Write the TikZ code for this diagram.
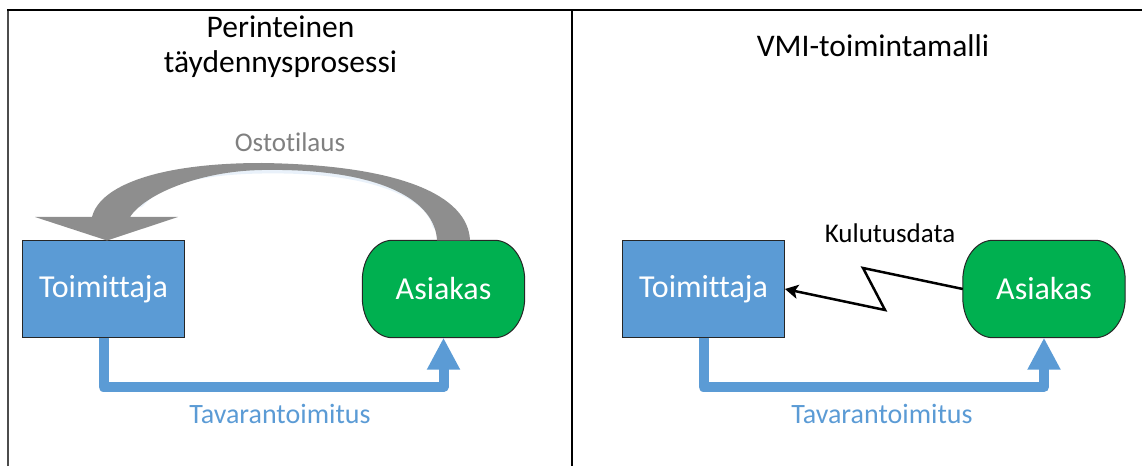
\documentclass[tikz,border=0pt]{standalone}
\usepackage{fontspec}
\setmainfont{Carlito}[Ligatures={NoCommon,NoContextual}]
\usetikzlibrary{arrows.meta,backgrounds}

\definecolor{vblue}{HTML}{5B9BD5}
\definecolor{vgreen}{HTML}{00B050}
\definecolor{vgrey}{HTML}{8E8E8E}

\tikzset{
  boxfont/.style={text=white, font=\fontsize{32}{38}\selectfont},
  supplier/.style={boxfont, draw=black!85, line width=1pt, fill=vblue,
    minimum width=162pt, minimum height=96pt},
  customer/.style={boxfont, minimum width=162pt, minimum height=97pt},
  termshape/.style={draw=black!85, line width=1pt, fill=vgreen},
  delivery/.style={vblue, line width=10pt, line join=round,
    -{Triangle[width=31pt,length=32pt]}},
  heading/.style={font=\fontsize{31.5}{35}\selectfont, align=center},
  flowlabel/.style={font=\fontsize{27}{32}\selectfont},
}

% terminator outline (elliptic corners) around a node
\newcommand\termoutline[1]{%
  \filldraw[termshape] ([xshift=30pt]#1.north west) -- ([xshift=-30pt]#1.north east)
    arc[start angle=90, end angle=0, x radius=30pt, y radius=40pt]
    -- ([yshift=40pt]#1.south east)
    arc[start angle=0, end angle=-90, x radius=30pt, y radius=40pt]
    -- ([xshift=30pt]#1.south west)
    arc[start angle=270, end angle=180, x radius=30pt, y radius=40pt]
    -- ([yshift=-40pt]#1.north west)
    arc[start angle=180, end angle=90, x radius=30pt, y radius=40pt] -- cycle;}

\begin{document}
\begin{tikzpicture}[x=1pt, y=1pt]
\useasboundingbox (0,0) rectangle (1142,466);

% frame
\draw[line width=2pt, black!70] (8,0) -- (8,455.5);
\draw[line width=2pt] (7,455.5) -- (1142,455.5);
\draw[line width=2pt] (571.5,455.5) -- (571.5,0);

% left panel
\node[heading] (title1) at (280.5,419) {Perinteinen\\täydennysprosessi};
\node[supplier] (t1) at (103.5,177) {Toimittaja};
\node[customer] (a1) at (443.5,177) {Asiakas};
\begin{pgfonlayer}{background}
  \termoutline{a1}
\end{pgfonlayer}

% purchase order arrow, with a soft glow under it
\draw[vblue!30, line width=7pt, opacity=.45, line cap=round]
  (140,262) .. controls (160,285) and (200,295) .. (262,296)
  .. controls (380,298) and (430,268) .. (436,240);
\fill[vgrey] ([xshift=26.5pt]a1.north) .. controls +(-2,45) and (400,301) .. (262,303)
  .. controls (160,303) and (100,281) .. (92,249)
  -- (35,249) -- ([xshift=3.5pt]t1.north) -- (178,249) -- (130,249)
  .. controls (145,272) and (200,295) .. (262,296)
  .. controls (380,298) and (435,266) .. ([xshift=-6.5pt]a1.north) -- cycle;
\node[flowlabel, text=black!50, anchor=base] (order) at (290,314) {Ostotilaus};

\draw[delivery] (t1.south) -- ++(0,-49.5) -| (a1.south);
\node[flowlabel, text=vblue, anchor=base, font=\fontsize{28}{32}\selectfont] (deliv1) at (280,43) {Tavarantoimitus};

% right panel
\node[heading, anchor=base] (title2) at (873,409) {VMI-toimintamalli};
\node[supplier] (t2) at (703.5,177) {Toimittaja};
\node[customer] (a2) at (1044,177) {Asiakas};
\begin{pgfonlayer}{background}
  \termoutline{a2}
\end{pgfonlayer}

\coordinate (zz1) at (863,198);
\coordinate (zz2) at (885,156);
\draw[line width=2.5pt, -{Stealth[length=13pt,width=14pt,inset=3pt]}]
  (a2.west) -- (zz1) -- (zz2) -- (t2.east);
\node[flowlabel, anchor=base] (data) at (890,223) {Kulutusdata};

\draw[delivery] (t2.south) -- ++(0,-49.5) -| (a2.south);
\node[flowlabel, text=vblue, anchor=base, font=\fontsize{28}{32}\selectfont] (deliv2) at (882,43) {Tavarantoimitus};
\end{tikzpicture}
\end{document}
